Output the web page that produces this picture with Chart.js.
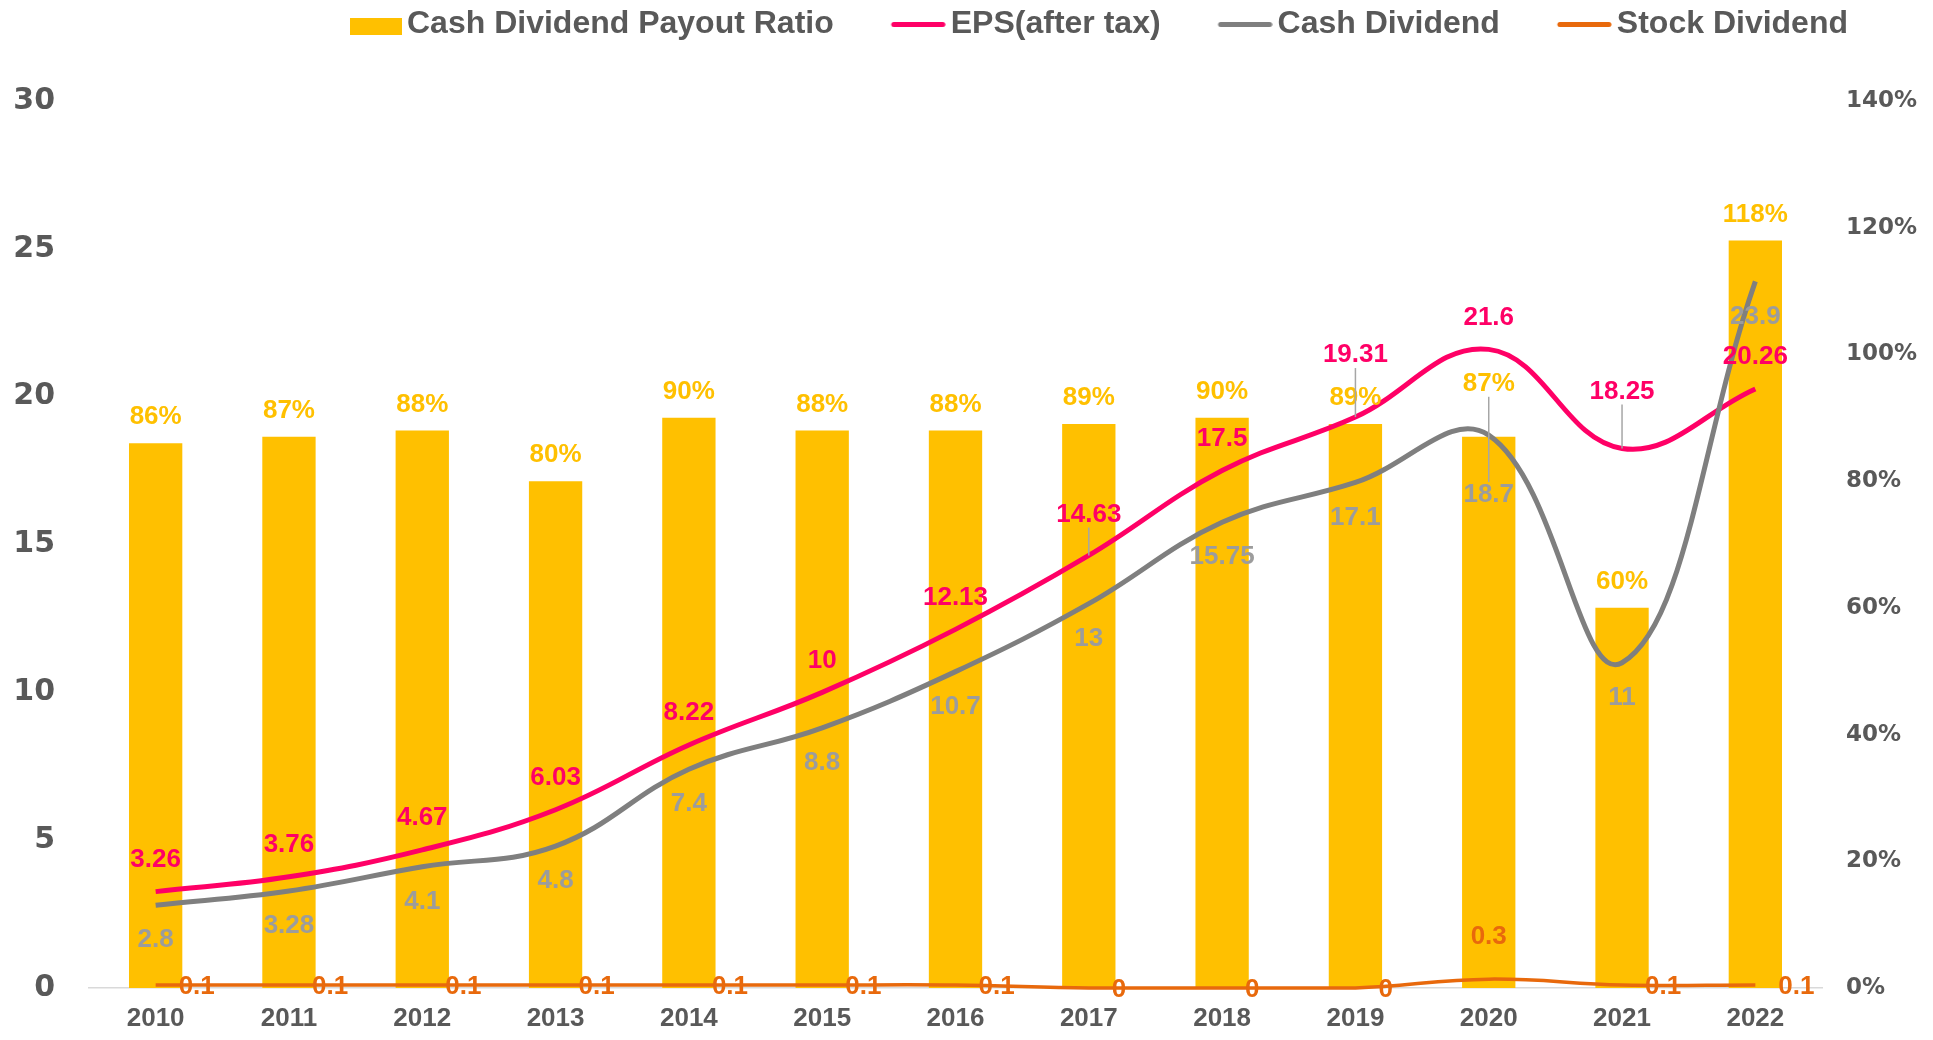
<!DOCTYPE html>
<html>
<head>
<meta charset="utf-8">
<title>Dividend chart</title>
<script src="https://cdn.jsdelivr.net/npm/chart.js@4.4.0/dist/chart.umd.min.js"></script>
<style>
  html, body { margin: 0; padding: 0; background: #fff; overflow: hidden; }
  canvas { display: block; }
</style>
</head>
<body>
<canvas id="chart" width="1933" height="1040"></canvas>
<script>
const years = ['2010', '2011', '2012', '2013', '2014', '2015', '2016', '2017', '2018', '2019', '2020', '2021', '2022'];
const payoutRatio = [86, 87, 88, 80, 90, 88, 88, 89, 90, 89, 87, 60, 118];
const eps = [3.26, 3.76, 4.67, 6.03, 8.22, 10, 12.13, 14.63, 17.5, 19.31, 21.6, 18.25, 20.26];
const cashDividend = [2.8, 3.28, 4.1, 4.8, 7.4, 8.8, 10.7, 13, 15.75, 17.1, 18.7, 11, 23.9];
const stockDividend = [0.1, 0.1, 0.1, 0.1, 0.1, 0.1, 0.1, 0, 0, 0, 0.3, 0.1, 0.1];

const GOLD = '#FFC000';
const PINK = '#FF0066';
const GRAY = '#7F7F7F';
const ORANGE = '#E8690C';
const TEXT = '#595959';
const FONT = '"Liberation Sans", Arial, sans-serif';

// legend icons: drawn on the right side of a wider canvas so the gaps match
function legendIcon(color, kind) {
    const c = document.createElement('canvas');
    c.width = 117;
    c.height = 24;
    const g = c.getContext('2d');
    if (kind === 'bar') {
        g.fillStyle = color;
        g.fillRect(117 - 52, 6, 52, 17);
    } else {
        g.strokeStyle = color;
        g.lineWidth = 5;
        g.lineCap = 'round';
        g.beginPath();
        g.moveTo(117 - 52, 12.5);
        g.lineTo(117 - 3, 12.5);
        g.stroke();
    }
    return c;
}
const legendIcons = [legendIcon(GOLD, 'bar'), legendIcon(PINK), legendIcon(GRAY), legendIcon(ORANGE)];

// label settings per dataset (offsets in px from the mark)
const labelSets = [
    { color: GOLD, dy: -26, fmt: v => v + '%', shift: { 10: { dy: -53 } }, leader: [10] },
    { color: PINK, dy: -32, shift: { 7: { dy: -41 }, 9: { dy: -62 }, 11: { dy: -57 } }, leader: [7, 9, 11] },
    { color: '#9C9C9C', dy: 35, shift: { 10: { dy: 60 } }, leader: [10] },
    { color: ORANGE, dx: 23, dy: 2, align: 'left', shift: { 10: { dx: 0, dy: -42, align: 'center' } } }
];

const valueLabels = {
    id: 'valueLabels',
    afterDatasetsDraw(chart) {
        const ctx = chart.ctx;
        ctx.save();
        ctx.font = 'bold 26px ' + FONT;
        ctx.textBaseline = 'middle';
        chart.data.datasets.forEach((ds, di) => {
            const cfg = labelSets[di];
            const meta = chart.getDatasetMeta(di);
            meta.data.forEach((el, i) => {
                const v = ds.data[i];
                const s = (cfg.shift && cfg.shift[i]) || {};
                const dx = s.dx !== undefined ? s.dx : (cfg.dx || 0);
                const dy = s.dy !== undefined ? s.dy : cfg.dy;
                const align = s.align || cfg.align || 'center';
                const x = el.x + dx;
                const y = el.y + dy;
                if (cfg.leader && cfg.leader.includes(i)) {
                    ctx.strokeStyle = '#A6A6A6';
                    ctx.lineWidth = 1.5;
                    ctx.beginPath();
                    ctx.moveTo(el.x, y + (dy < 0 ? 13 : -13));
                    ctx.lineTo(el.x, el.y);
                    ctx.stroke();
                }
                ctx.fillStyle = cfg.color;
                ctx.textAlign = align;
                ctx.fillText(cfg.fmt ? cfg.fmt(v) : String(v), x, y);
            });
        });
        ctx.restore();
    }
};

const legendPlace = {
    id: 'legendPlace',
    afterLayout(chart) {
        const lg = chart.legend;
        const w = lg.right - lg.left;
        const h = lg.bottom - lg.top;
        lg.left = 290;
        lg.right = 290 + w;
        lg.top = 2;
        lg.bottom = 2 + h;
    }
};

new Chart(document.getElementById('chart'), {
    type: 'bar',
    data: {
        labels: years,
        datasets: [{
            label: 'Cash Dividend Payout Ratio',
            data: payoutRatio,
            backgroundColor: GOLD,
            yAxisID: 'y1',
            categoryPercentage: 1,
            barPercentage: 0.4,
            order: 10
        }, {
            type: 'line',
            label: 'EPS(after tax)',
            data: eps,
            borderColor: PINK,
            backgroundColor: PINK,
            borderWidth: 5,
            pointRadius: 0,
            tension: 0.4,
            clip: false,
            yAxisID: 'y',
            order: 2
        }, {
            type: 'line',
            label: 'Cash Dividend',
            data: cashDividend,
            borderColor: GRAY,
            backgroundColor: GRAY,
            borderWidth: 5,
            pointRadius: 0,
            tension: 0.4,
            clip: false,
            yAxisID: 'y',
            order: 1
        }, {
            type: 'line',
            label: 'Stock Dividend',
            data: stockDividend,
            borderColor: ORANGE,
            backgroundColor: ORANGE,
            borderWidth: 3.5,
            pointRadius: 0,
            tension: 0.4,
            clip: false,
            yAxisID: 'y',
            order: 0
        }]
    },
    options: {
        responsive: false,
        animation: false,
        devicePixelRatio: 1,
        layout: { autoPadding: false, padding: { top: 53, left: 0, right: 0, bottom: 0 } },
        plugins: {
            tooltip: { enabled: false },
            legend: {
                position: 'top',
                align: 'start',
                labels: {
                    usePointStyle: true,
                    pointStyleWidth: 95,
                    padding: 6,
                    color: TEXT,
                    font: { family: FONT, size: 32, weight: 'bold' },
                    generateLabels: function(chart) {
                        return chart.data.datasets.map((ds, i) => ({
                            text: ds.label,
                            fillStyle: ds.backgroundColor,
                            strokeStyle: ds.borderColor,
                            lineWidth: 0,
                            pointStyle: legendIcons[i],
                            hidden: !chart.isDatasetVisible(i),
                            datasetIndex: i,
                            fontColor: TEXT
                        }));
                    }
                }
            }
        },
        scales: {
            x: {
                grid: { display: false, drawTicks: false },
                border: { display: true, color: '#D9D9D9', width: 1.5 },
                ticks: { color: TEXT, padding: 15, font: { family: FONT, size: 26, weight: 'bold' } },
                afterFit: function(scale) { scale.height = 45; }
            },
            y: {
                position: 'left',
                min: 0,
                max: 30,
                grid: { display: false, drawTicks: false },
                border: { display: false },
                ticks: { stepSize: 5, color: TEXT, padding: 34, font: { family: '"DejaVu Sans", sans-serif', size: 30, weight: 'bold' } },
                afterFit: function(scale) { scale.width = 89; }
            },
            y1: {
                position: 'right',
                min: 0,
                max: 140,
                grid: { display: false, drawTicks: false },
                border: { display: false },
                ticks: {
                    stepSize: 20,
                    color: TEXT,
                    padding: 24,
                    font: { family: '"DejaVu Sans", sans-serif', size: 23, weight: 'bold' },
                    callback: v => v + '%'
                },
                afterFit: function(scale) { scale.width = 111; }
            }
        }
    },
    plugins: [valueLabels, legendPlace]
});
</script>
</body>
</html>
